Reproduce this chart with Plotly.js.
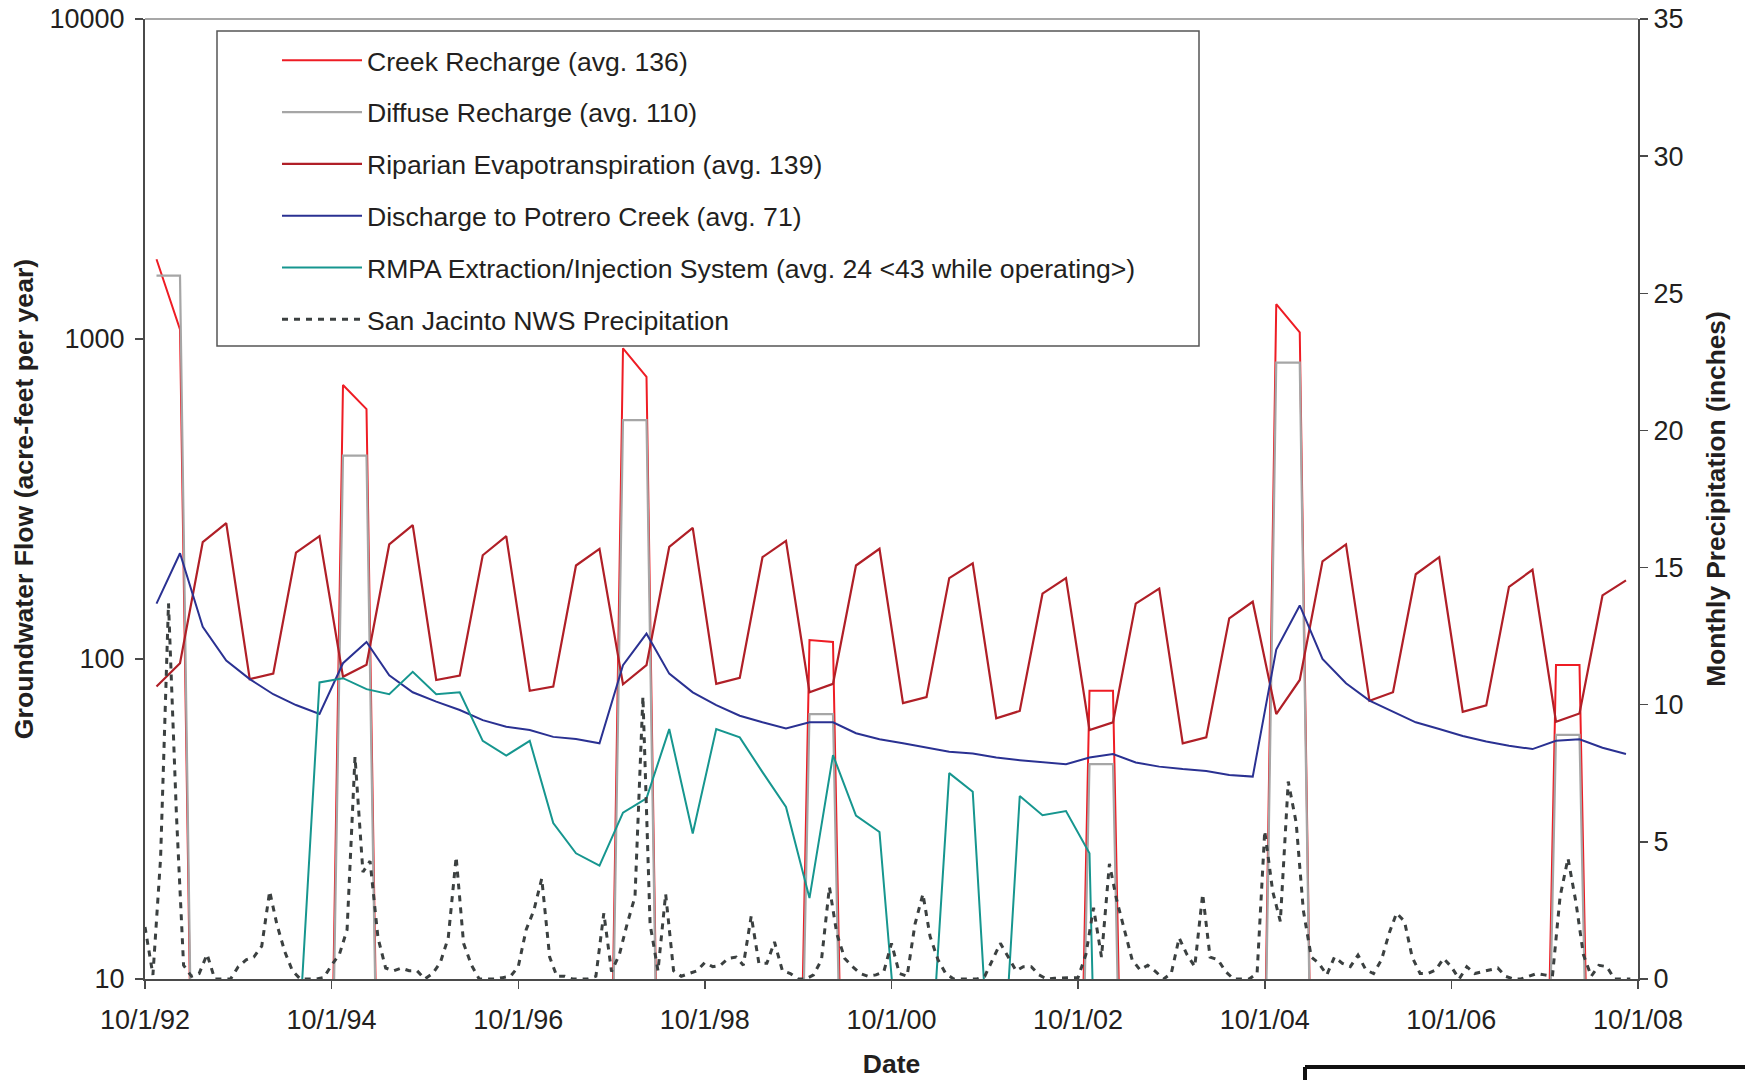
<!DOCTYPE html>
<html>
<head>
<meta charset="utf-8">
<script src="https://cdn.plot.ly/plotly-3.0.1.min.js"></script>
<style>
html,body{margin:0;padding:0;background:#ffffff;}
#chart{width:1745px;height:1080px;}
</style>
</head>
<body>
<div id="chart"></div>
<script>
// ---------- DATA ----------
// Quarterly groundwater-flow values (acre-feet per year), 64 quarters, Oct 1992 - Sep 2008
const creekRecharge = [1775,1072,0,0,0,0,0,0,718,604,0,0,0,0,0,0,0,0,0,0,935,762,0,0,0,0,0,0,114.6,113,0,0,0,0,0,0,0,0,0,0,79.6,79.6,0,0,0,0,0,0,1285,1049,0,0,0,0,0,0,0,0,0,0,95.7,95.7,0,0];
const diffuseRecharge = [1578,1578,0,0,0,0,0,0,432,432,0,0,0,0,0,0,0,0,0,0,558,558,0,0,0,0,0,0,67.3,67.3,0,0,0,0,0,0,0,0,0,0,46.9,46.9,0,0,0,0,0,0,844,844,0,0,0,0,0,0,0,0,0,0,57.9,57.9,0,0];
const riparianET = [82,97,232,266,86.5,90,215,242,88,96,228,262,86,88.7,211,242,79.6,82,196,221,83.4,95.7,224,257,83.6,87.3,208,234,78.7,83.6,196,221,72.8,76,179,199,65.3,68.8,160,179,60,63.4,149,166,54.5,56.9,134,151,67.3,86,202,228,74,78.7,184,208,68.4,71.6,168,190,63.7,67.6,158,176];
const dischargePotrero = [149,214,126,98.9,86.5,77.6,71.8,67.3,97,113,89,78.7,73.6,69.3,64.4,61.4,60,57.1,56.2,54.5,95.7,120,90,78.7,71.8,66.5,63.4,60.7,63.4,63.4,58.6,56.1,54.5,52.9,51.3,50.7,49.2,48.3,47.5,46.9,49.2,50.5,47.5,46.1,45.3,44.7,43.4,42.9,107,147,100,84,74.1,68.4,63.4,60.4,57.5,55.2,53.6,52.3,55.5,56.1,52.8,50.5];
const rmpaSystem = [0,0,0,0,0,0,4.6,84.5,87.1,80.5,77.6,91.2,77.6,78.7,55.5,49.9,55.5,30.7,24.7,22.6,33.1,36.7,60.4,28.5,60.4,56.9,44.3,34.5,17.9,50.1,32.4,28.8,3.8,3.3,44,38.5,2.2,37.3,32.5,33.5,24.7,0,0,0,0,0,0,0,0,0,0,0,0,0,0,0,0,0,0,0,0,0,0,0];
// Monthly precipitation (inches), 192 months, Oct 1992 - Sep 2008
const precipitation = [
1.9,0.15,4.4,13.7,6.0,0.5,0.1,0.2,0.9,0,0,0,
0.45,0.7,0.8,1.2,3.2,2.0,1.0,0.3,0,0,0,0.05,
0.5,0.9,1.8,8.1,3.9,4.3,1.5,0.4,0.3,0.4,0.3,0.3,
0,0.2,0.6,1.5,4.45,1.3,0.5,0,0,0,0.05,0.1,
0.45,1.8,2.5,3.66,0.8,0.1,0.1,0,0,0,0.1,2.4,
0.27,0.9,2.0,3.0,10.3,2.0,0.3,3.1,0.3,0.1,0.2,0.3,
0.6,0.45,0.5,0.75,0.8,0.5,2.3,0.57,0.57,1.35,0.3,0.2,
0,0,0.15,0.7,3.35,1.65,0.75,0.45,0.2,0.1,0.15,0.27,
1.3,0.2,0.1,2.0,3.1,1.55,0.7,0.2,0,0,0,0,
0.1,0.7,1.3,0.8,0.3,0.45,0.45,0.15,0,0.03,0.03,0.03,
0.05,0.9,2.6,0.8,4.2,2.9,1.8,0.7,0.33,0.5,0.27,0,
0.2,1.5,0.9,0.45,3.1,0.8,0.7,0.27,0,0,0,0.2,
5.4,3.2,2.1,7.2,5.7,2.5,0.8,0.57,0.15,0.8,0.57,0.45,
0.87,0.33,0.2,0.7,1.7,2.4,2.1,0.8,0.2,0.2,0.33,0.75,
0.45,0,0.45,0.2,0.27,0.33,0.4,0.1,0,0,0.1,0.2,
0.15,0.1,3.0,4.4,2.8,0.9,0.1,0.5,0.45,0,0,0];

const seriesNames = [
  'Creek Recharge (avg. 136)',
  'Diffuse Recharge (avg. 110)',
  'Riparian Evapotranspiration (avg. 139)',
  'Discharge to Potrero Creek (avg. 71)',
  'RMPA Extraction/Injection System (avg. 24 &lt;43 while operating&gt;)',
  'San Jacinto NWS Precipitation'
];
const xTickVals = ['1992-10-01','1994-10-01','1996-10-01','1998-10-01','2000-10-01','2002-10-01','2004-10-01','2006-10-01','2008-10-01'];
const xTickText = ['10/1/92','10/1/94','10/1/96','10/1/98','10/1/00','10/1/02','10/1/04','10/1/06','10/1/08'];
const yTickVals = [10,100,1000,10000];
const yTickText = ['10','100','1000','10000'];

// ---------- time grid ----------
function monthDate(m, day){
  const total = 9 + m;               // month 0 = October 1992
  const y = 1992 + Math.floor(total/12);
  const mo = total % 12 + 1;
  return y + '-' + String(mo).padStart(2,'0') + '-' + String(day).padStart(2,'0');
}
const quarterDates = creekRecharge.map((_, k) => monthDate(3*k + 1, 15)); // mid-quarter
const monthDates = precipitation.map((_, m) => monthDate(m, 1));

// zero values cannot sit on a log axis: draw them just below the visible range
const LOG_FLOOR = 0.02;
const onLog = arr => arr.map(v => v > 0 ? v : LOG_FLOOR);

const FONT = 'Liberation Sans, Arial, Helvetica, sans-serif';
const TXT = '#231f20';

function gwTrace(i, arr, color, width){
  return {
    type:'scatter', mode:'lines', x: quarterDates, y: onLog(arr),
    name: seriesNames[i], legendgroup:'g'+i,
    line:{color:color, width:width}, xaxis:'x', yaxis:'y'
  };
}

const traces = [
  gwTrace(0, creekRecharge, '#ee1c24', 2),
  gwTrace(1, diffuseRecharge, '#a6a6a6', 2.2),
  gwTrace(2, riparianET, '#b01f27', 2.2),
  gwTrace(3, dischargePotrero, '#2a3192', 2),
  gwTrace(4, rmpaSystem, '#16968f', 2),
  {
    type:'scatter', mode:'lines', x: monthDates, y: precipitation,
    name: seriesNames[5], legendgroup:'g5',
    line:{color:'#3b4040', width:3, dash:'6px,6px'}, xaxis:'x', yaxis:'y2'
  }
];

const PL = 145, PR = 1638, PT = 19, PB = 979;
const px2x = p => (p - PL) / (PR - PL);
const px2y = p => (PB - p) / (PB - PT);

const layout = {
  width:1745, height:1080,
  margin:{l:PL, r:1745-PR, t:PT, b:1080-PB, pad:0},
  paper_bgcolor:'#ffffff', plot_bgcolor:'#ffffff',
  font:{family:FONT, size:26, color:TXT},
  showlegend:true,
  legend:{
    x: px2x(277), y: px2y(36.5), xanchor:'left', yanchor:'top',
    bgcolor:'rgba(0,0,0,0)', borderwidth:0,
    font:{family:FONT, size:26.6, color:TXT},
    itemwidth:80, traceorder:'grouped', tracegroupgap:14.2
  },
  xaxis:{
    type:'date', range:['1992-10-01','2008-10-01'],
    tickvals:xTickVals, ticktext:xTickText,
    showgrid:false, zeroline:false,
    showline:true, linecolor:'#4a4a4a', linewidth:2,
    ticks:'outside', ticklen:8, tickwidth:1.5, tickcolor:'#4a4a4a',
    ticklabelstandoff:8,
    tickfont:{family:FONT, size:27, color:TXT},
    title:{text:'<b>Date</b>', font:{family:FONT, size:26.5, color:TXT}, standoff:20}
  },
  yaxis:{
    type:'log', range:[1,4],
    tickvals:yTickVals, ticktext:yTickText,
    showgrid:false, zeroline:false,
    showline:true, linecolor:'#4a4a4a', linewidth:2,
    ticks:'outside', ticklen:8, tickwidth:1.5, tickcolor:'#4a4a4a',
    ticklabelstandoff:5,
    tickfont:{family:FONT, size:27, color:TXT},
    title:{text:'<b>Groundwater Flow (acre-feet per year)</b>', font:{family:FONT, size:26.6, color:TXT}, standoff:8}
  },
  yaxis2:{
    overlaying:'y', side:'right', range:[0,35], dtick:5, tick0:0,
    showgrid:false, zeroline:false,
    showline:true, linecolor:'#4a4a4a', linewidth:2,
    ticks:'outside', ticklen:8, tickwidth:1.5, tickcolor:'#4a4a4a',
    tickfont:{family:FONT, size:27, color:TXT},
    title:{text:'<b>Monthly Precipitation (inches)</b>', font:{family:FONT, size:26.3, color:TXT}, standoff:24}
  },
  shapes:[
    // legend frame
    {type:'rect', xref:'paper', yref:'paper', x0:px2x(217), x1:px2x(1199), y0:px2y(346), y1:px2y(31),
     line:{color:'#555555', width:1.5}, fillcolor:'#ffffff', layer:'above'},
    // top frame line
    {type:'line', xref:'paper', yref:'paper', x0:0, x1:1, y0:1, y1:1, line:{color:'#8a8a8a', width:1.5}},
    // fragment of neighbouring box at bottom right
    {type:'line', xref:'paper', yref:'paper', x0:px2x(1305), x1:px2x(1745), y0:px2y(1067), y1:px2y(1067), line:{color:'#111111', width:4}},
    {type:'line', xref:'paper', yref:'paper', x0:px2x(1305), x1:px2x(1305), y0:px2y(1067), y1:px2y(1082), line:{color:'#111111', width:4}}
  ]
};

Plotly.newPlot('chart', traces, layout, {displayModeBar:false, staticPlot:true});
</script>
</body>
</html>
